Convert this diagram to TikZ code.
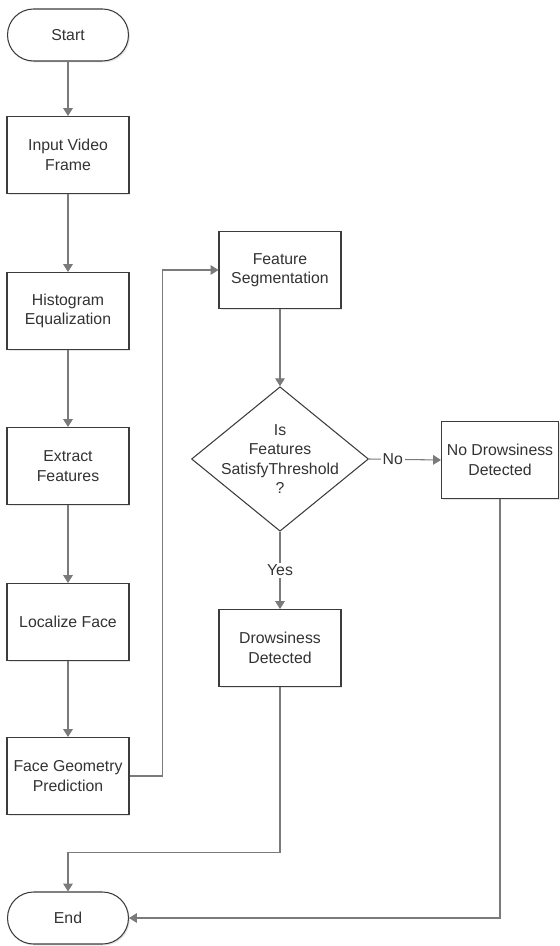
\documentclass[tikz,border=0pt]{standalone}
\usepackage{fontspec}
\setmainfont{Liberation Sans}
\usepackage{tikz}
\usetikzlibrary{arrows.meta}
\usetikzlibrary{shapes,shadows}

\definecolor{linegray}{HTML}{7A7A7A}
\definecolor{boxgray}{HTML}{3C3C3C}

\tikzset{
  every node/.style={font=\fontsize{9}{11}\selectfont, text=black!80, align=center},
  boxshadow/.style={drop shadow={shadow xshift=0.03cm, shadow yshift=-0.03cm, opacity=0.2}},
  process/.style={draw=boxgray, line width=0.6pt, fill=white, boxshadow,
    minimum width=2.44cm, minimum height=1.54cm, inner sep=1pt},
  terminal/.style={draw=boxgray, line width=0.6pt, fill=white, boxshadow,
    rounded corners=0.52cm, minimum width=2.42cm, minimum height=1.04cm},
  decision/.style={draw=boxgray, line width=0.6pt, fill=white, diamond,
    inner sep=-6pt, minimum width=3.54cm, minimum height=2.84cm},
  flow/.style={draw=linegray, line width=0.6pt, -{Triangle[length=4.5pt,width=5.5pt]}}
}

\begin{document}
\begin{tikzpicture}[x=0.02cm, y=-0.02cm]

      \useasboundingbox (0,0) rectangle (560,946);

      % left column
      \node (start)    at (68, 35)  [terminal] {Start};
      \node (input)    at (68, 155) [process]  {Input Video\\Frame};
      \node (histeq)   at (68, 311) [process]  {Histogram\\Equalization};
      \node (extract)  at (68, 466) [process]  {Extract\\Features};
      \node (localize) at (68, 622) [process]  {Localize Face};
      \node (facegeo)  at (68, 776) [process]  {Face Geometry\\Prediction};
      \node (finish)   at (68, 918) [terminal] {End};

      % middle column
      \node (featseg)  at (280, 270) [process]  {Feature\\Segmentation};
      \node (decide)   at (280, 459) [decision] {Is\\Features\\SatisfyThreshold\\?};
      \node (drowsy)   at (280, 648) [process]  {Drowsiness\\Detected};

      % right column
      \node (nodrowsy) at (500, 460) [process, minimum width=2.34cm] {No Drowsiness\\Detected};

      \draw[flow] (start) -- (input);
      \draw[flow] (input) -- (histeq);
      \draw[flow] (histeq) -- (extract);
      \draw[flow] (extract) -- (localize);
      \draw[flow] (localize) -- (facegeo);
      \draw[flow] (facegeo.east) -- ++(33,0) |- (featseg.west);
      \draw[flow] (featseg) -- (decide);
      \draw[flow] (decide.east) -- node[pos=0.33, fill=white, inner sep=1pt] {No} (nodrowsy.west);
      \draw[flow] (decide.south) -- node[fill=white, inner sep=1pt] {Yes} (drowsy.north);
      \draw[flow] (drowsy.south) -- ++(0,165) -| (finish.north);
      \draw[flow] (nodrowsy.south) |- (finish.east);

    \end{tikzpicture}
\end{document}
